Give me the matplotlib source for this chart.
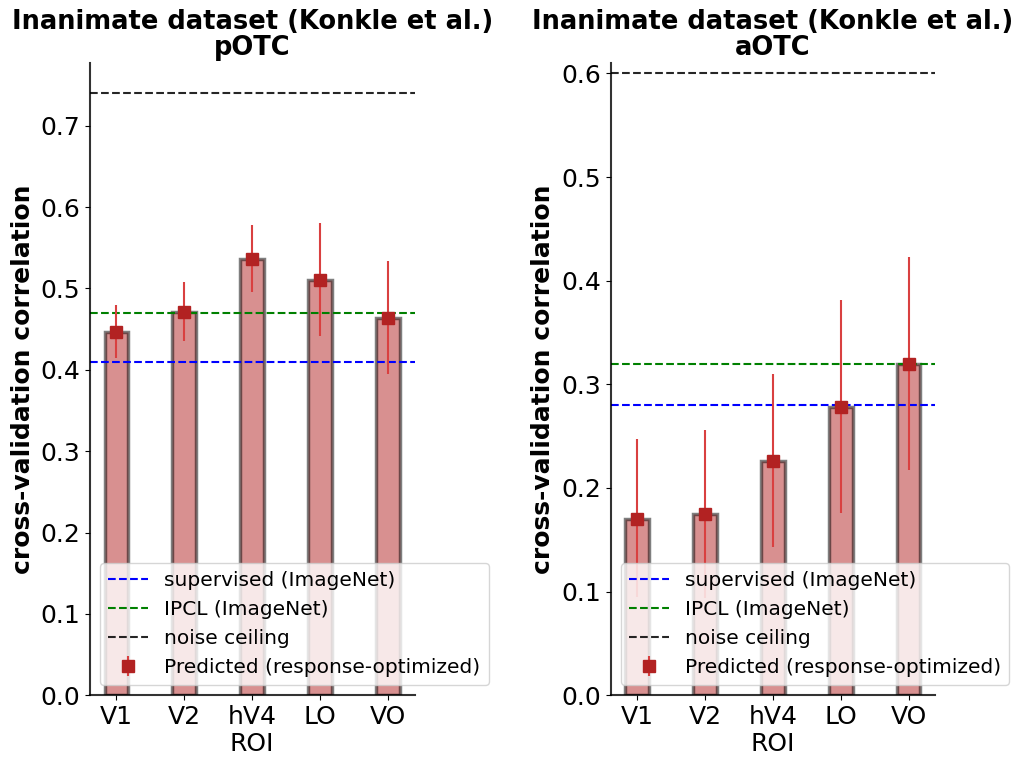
import matplotlib.pyplot as plt
import numpy as np

# ROI labels
rois = ["V1", "V2", "hV4", "LO", "VO"]

# pOTC panel
potc_pred = [0.447, 0.471, 0.536, 0.510, 0.464]
potc_lo = [0.414, 0.435, 0.495, 0.442, 0.395]
potc_hi = [0.480, 0.508, 0.578, 0.580, 0.534]
potc_supervised = 0.41
potc_ipcl = 0.47
potc_ceiling = 0.74

# aOTC panel
aotc_pred = [0.170, 0.175, 0.226, 0.278, 0.320]
aotc_lo = [0.095, 0.094, 0.143, 0.176, 0.217]
aotc_hi = [0.247, 0.256, 0.310, 0.381, 0.423]
aotc_supervised = 0.28
aotc_ipcl = 0.32
aotc_ceiling = 0.60

fig = plt.figure(figsize=(10.21, 7.59), dpi=100)
ax1 = fig.add_axes([0.088, 0.084, 0.318, 0.833])
ax2 = fig.add_axes([0.598, 0.084, 0.318, 0.833])


def draw_panel(ax, name, pred, lo, hi, sup, ipcl, ceil, ytop):
    x = np.arange(len(rois))
    pred = np.array(pred)
    yerr = [pred - np.array(lo), np.array(hi) - pred]
    ax.bar(x, pred, width=0.35, color='firebrick', alpha=0.5,
           edgecolor='black', linewidth=2.5)
    ax.axhline(sup, color='blue', linestyle='--', linewidth=1.5, label='supervised (ImageNet)')
    ax.axhline(ipcl, color='green', linestyle='--', linewidth=1.5, label='IPCL (ImageNet)')
    ax.axhline(ceil, color='black', linestyle='--', linewidth=1.5, alpha=0.85, label='noise ceiling')
    ax.errorbar(x, pred, yerr=yerr, fmt='s', color='firebrick', markersize=8,
                ecolor=(0.85, 0.25, 0.25), elinewidth=1.5, label='Predicted (response-optimized)')
    ax.set_xticks(x)
    ax.set_xticklabels(rois, fontsize=18)
    ax.tick_params(axis='y', labelsize=18)
    ax.set_ylim(0, ytop)
    ax.set_xlabel('ROI', fontsize=18, labelpad=2)
    ax.set_ylabel('cross-validation correlation', fontsize=18, fontweight='bold')
    ax.set_title('Inanimate dataset (Konkle et al.)\n' + name, fontsize=18.5,
                 fontweight='bold', linespacing=1.0)
    ax.spines['top'].set_visible(False)
    ax.spines['right'].set_visible(False)
    for s in ['left', 'bottom']:
        ax.spines[s].set_linewidth(1.5)
        ax.spines[s].set_alpha(0.8)
    ax.legend(loc='lower left', fontsize=14.5)


draw_panel(ax1, 'pOTC', potc_pred, potc_lo, potc_hi, potc_supervised, potc_ipcl, potc_ceiling, 0.777)
draw_panel(ax2, 'aOTC', aotc_pred, aotc_lo, aotc_hi, aotc_supervised, aotc_ipcl, aotc_ceiling, 0.61)

plt.savefig("out.png", dpi=100)
